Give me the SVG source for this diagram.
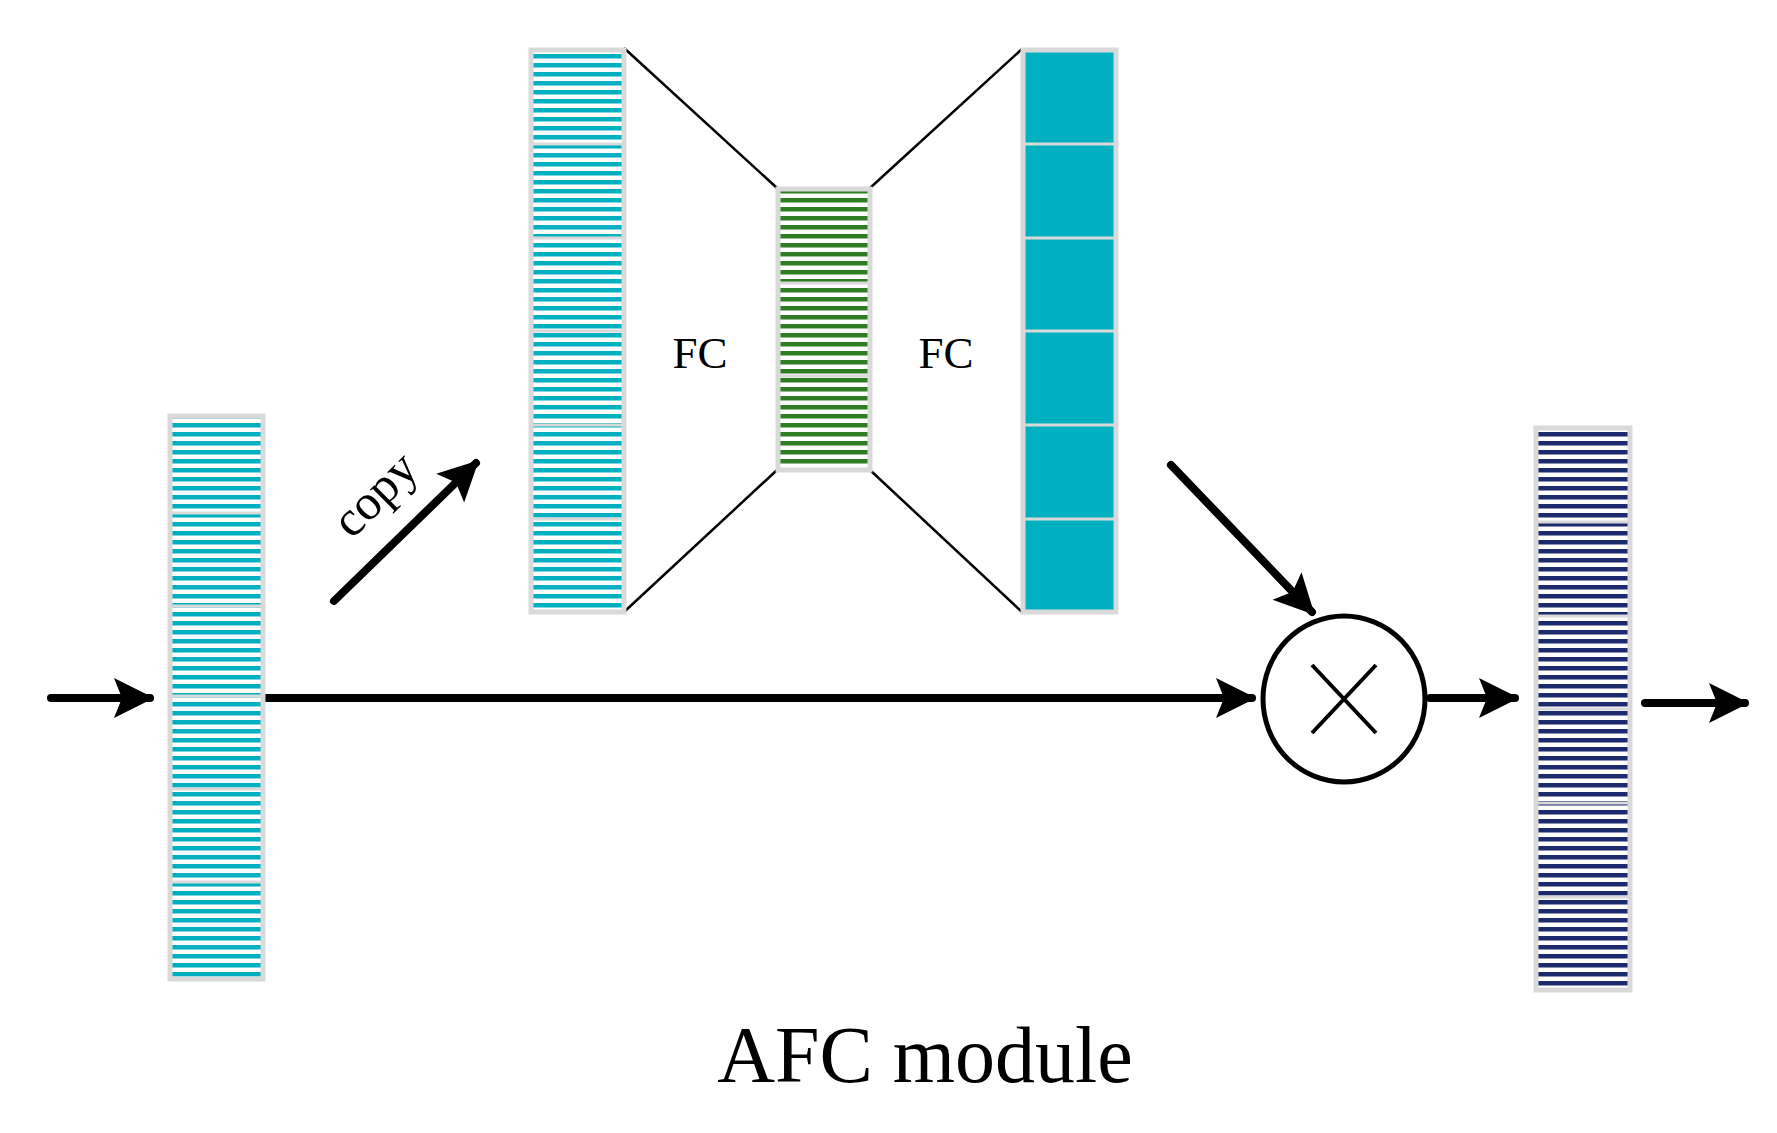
<svg xmlns="http://www.w3.org/2000/svg" width="1777" height="1133" viewBox="0 0 1777 1133">
<style>
.bar{stroke:#d9d9d9;stroke-width:5}
.sep{stroke:#d9d9d9;stroke-width:3}
.ln{stroke:#000;stroke-width:2.5;fill:none}
.ar{stroke:#000;stroke-width:8;stroke-linecap:round;fill:none}
.t{font-family:"Liberation Serif",serif;fill:#000}
</style>
<defs>
<pattern id="cy" width="20" height="9" patternUnits="userSpaceOnUse"><rect width="20" height="9" fill="#fff"/><rect y="0" width="20" height="4.5" fill="#00b0c0"/></pattern>
<pattern id="gr" width="20" height="9" patternUnits="userSpaceOnUse"><rect width="20" height="9" fill="#fff"/><rect y="0" width="20" height="4.5" fill="#2e7d22"/></pattern>
<pattern id="nv" width="20" height="9" patternUnits="userSpaceOnUse"><rect width="20" height="9" fill="#fff"/><rect y="0" width="20" height="4.5" fill="#1a2a6c"/></pattern>
<marker id="ah" viewBox="0 0 10 10" refX="9" refY="5" markerWidth="6" markerHeight="6" markerUnits="userSpaceOnUse" orient="auto"><path d="M0,0 L10,5 L0,10 L2,5 z" fill="#000"/></marker>
<marker id="ah2" viewBox="0 0 10 10" refX="9" refY="5" markerWidth="6" markerHeight="5" orient="auto"><path d="M0,0 L10,5 L0,10 L2,5 z" fill="#000"/></marker>
</defs>
<g id="connectors">
<line class="ln" x1="624" y1="48" x2="777" y2="188"/>
<line class="ln" x1="624" y1="612" x2="777" y2="470"/>
<line class="ln" x1="870" y1="188" x2="1022" y2="49"/>
<line class="ln" x1="870" y1="470" x2="1022" y2="612"/>
<line class="ar" x1="51" y1="698" x2="150" y2="698" marker-end="url(#ah2)"/>
<line class="ar" x1="262" y1="698" x2="1252" y2="698" marker-end="url(#ah2)"/>
<line class="ar" x1="1430" y1="698" x2="1515" y2="698" marker-end="url(#ah2)"/>
<line class="ar" x1="1645" y1="703" x2="1745" y2="703" marker-end="url(#ah2)"/>
<line class="ar" x1="1171" y1="465" x2="1312" y2="612" marker-end="url(#ah2)"/>
<line class="ar" x1="334" y1="601" x2="476" y2="463" marker-end="url(#ah2)"/>
</g>
<g id="input"><rect class="bar" x="170" y="416" width="93" height="563" fill="url(#cy)"/>
<path class="sep" d="M172,513H261M172,606H261M172,696H261M172,789H261M172,882H261"/></g>
<g id="copied"><rect class="bar" x="531" y="50" width="93" height="562" fill="url(#cy)"/>
<path class="sep" d="M533,144H622M533,238H622M533,331H622M533,425H622M533,519H622"/></g>
<g id="hidden"><rect class="bar" x="778" y="189" width="92" height="281" fill="url(#gr)"/>
<path class="sep" d="M780,283H868M780,376H868"/></g>
<g id="weights"><rect class="bar" x="1023" y="50" width="93" height="562" fill="#00b0c0"/>
<path class="sep" d="M1025,144H1114M1025,238H1114M1025,331H1114M1025,425H1114M1025,519H1114"/></g>
<g id="output"><rect class="bar" x="1536" y="428" width="94" height="562" fill="url(#nv)"/>
<path class="sep" d="M1538,522H1628M1538,616H1628M1538,709H1628M1538,803H1628M1538,897H1628"/></g>
<g id="mult"><ellipse cx="1344" cy="699" rx="81" ry="83" fill="#fff" stroke="#000" stroke-width="5"/>
<path d="M1312,665L1376,733M1376,665L1312,733" stroke="#000" stroke-width="4"/></g>
<text class="t" x="700" y="368" font-size="45" text-anchor="middle">FC</text>
<text class="t" x="946" y="368" font-size="45" text-anchor="middle">FC</text>
<text class="t" font-size="50" transform="translate(352,540) rotate(-45)">copy</text>
<text class="t" x="925" y="1082" font-size="80" text-anchor="middle">AFC module</text>
</svg>
